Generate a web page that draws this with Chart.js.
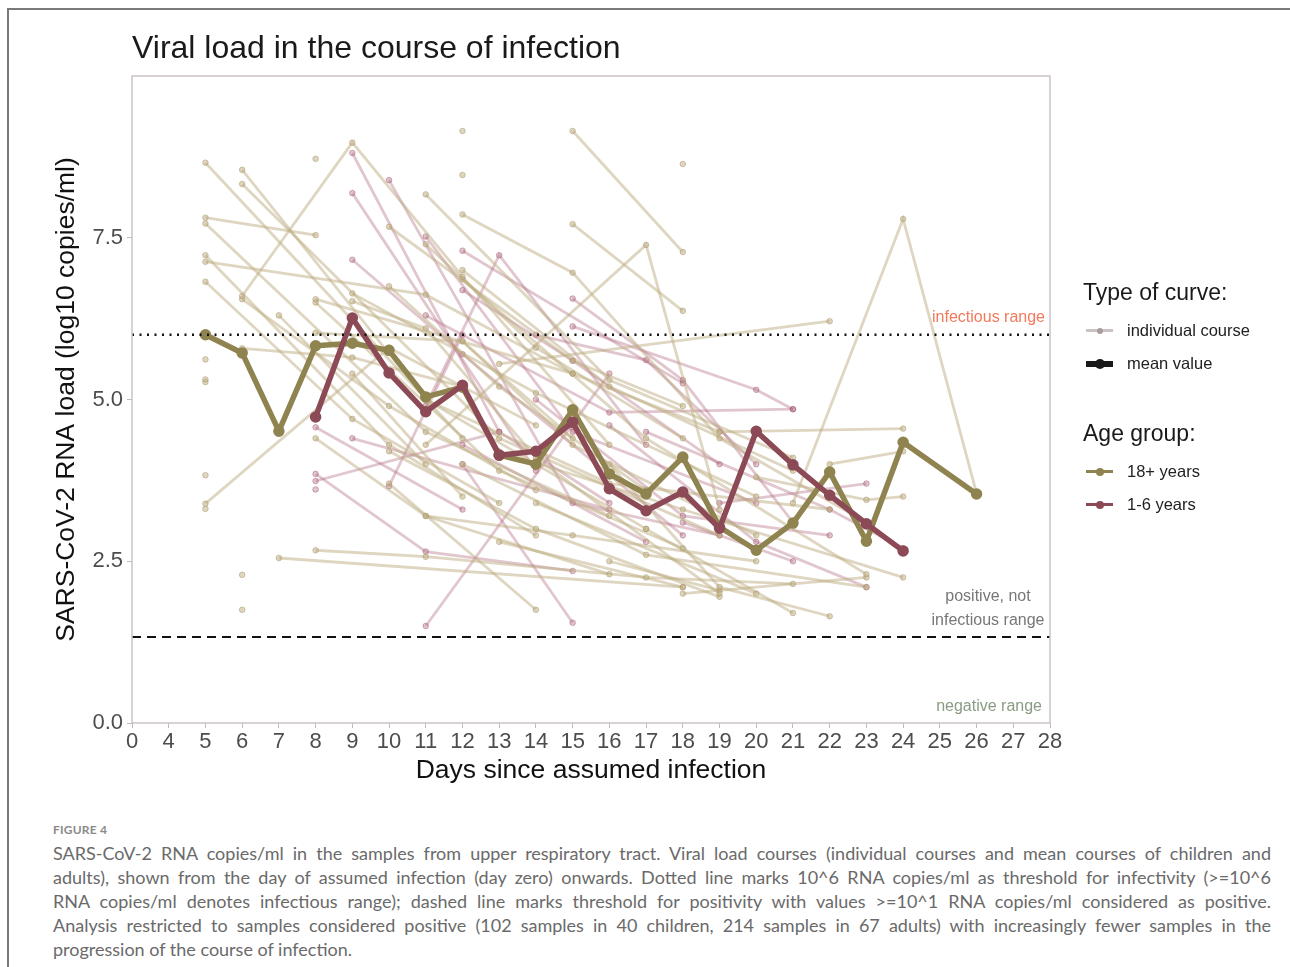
<!DOCTYPE html>
<html>
<head>
<meta charset="utf-8">
<script src="https://cdn.jsdelivr.net/npm/chart.js@4.4.1/dist/chart.umd.min.js"></script>
<style>
  body { margin: 0; background: #fff; width: 1290px; height: 967px; overflow: hidden; position: relative; font-family: "Liberation Sans", Arial, sans-serif; }
  #frame { position: absolute; left: 7px; top: 8px; width: 1300px; height: 980px; border-left: 2px solid #7a7a7a; border-top: 2px solid #7a7a7a; }
  #wrap { position: absolute; left: 0; top: 0; width: 1290px; height: 790px; }
  #title { position: absolute; left: 132px; top: 29px; font-size: 32px; color: #1a1a1a; white-space: nowrap; }
  .leg-h { position: absolute; left: 1083px; font-size: 23px; color: #1a1a1a; white-space: nowrap; }
  .leg-i { position: absolute; left: 1127px; font-size: 16.5px; color: #222; white-space: nowrap; }
  .sym { position: absolute; left: 1086px; width: 27px; }
  .sym i { position: absolute; left: 50%; top: 50%; border-radius: 50%; transform: translate(-50%, -50%); }
  #figno { position: absolute; left: 53px; top: 822px; font-family: Lato, "Open Sans", sans-serif; font-size: 12px; font-weight: 700; color: #8a8a8a; letter-spacing: 0.2px; }
  #caption { position: absolute; left: 53px; top: 841px; width: 1218px; font-family: Lato, "Open Sans", sans-serif; font-size: 18px; color: #6a6a6a; line-height: 24px; }
  #caption div { text-align: justify; text-align-last: justify; white-space: nowrap; }
  #caption div.last { text-align-last: left; }
</style>
</head>
<body>
<div id="frame"></div>
<div id="wrap"><canvas id="viralChart" width="1290" height="790"></canvas></div>
<div id="title">Viral load in the course of infection</div>

<div class="leg-h" style="top:279px">Type of curve:</div>
<div class="sym" style="top:329px;height:3px;background:#cbc3c3"><i style="width:6px;height:6px;background:#a89d9d"></i></div>
<div class="leg-i" style="top:321px">individual course</div>
<div class="sym" style="top:361px;height:6px;background:#1a1a1a"><i style="width:10px;height:10px;background:#1a1a1a"></i></div>
<div class="leg-i" style="top:354px">mean value</div>

<div class="leg-h" style="top:420px">Age group:</div>
<div class="sym" style="top:470px;height:3px;background:#8f834f"><i style="width:8px;height:8px;background:#8f834f"></i></div>
<div class="leg-i" style="top:462px">18+ years</div>
<div class="sym" style="top:503px;height:3px;background:#8b4a56"><i style="width:8px;height:8px;background:#8b4a56"></i></div>
<div class="leg-i" style="top:495px">1-6 years</div>

<div id="figno">FIGURE 4</div>
<div id="caption">
  <div>SARS-CoV-2 RNA copies/ml in the samples from upper respiratory tract. Viral load courses (individual courses and mean courses of children and</div>
  <div>adults), shown from the day of assumed infection (day zero) onwards. Dotted line marks 10^6 RNA copies/ml as threshold for infectivity (&gt;=10^6</div>
  <div>RNA copies/ml denotes infectious range); dashed line marks threshold for positivity with values &gt;=10^1 RNA copies/ml considered as positive.</div>
  <div>Analysis restricted to samples considered positive (102 samples in 40 children, 214 samples in 67 adults) with increasingly fewer samples in the</div>
  <div class="last">progression of the course of infection.</div>
</div>

<script>
// x axis categories (day 1-3 are not shown in the figure)
const dayLabels = ["0", "4", "5", "6", "7", "8", "9", "10", "11", "12", "13", "14", "15", "16",
  "17", "18", "19", "20", "21", "22", "23", "24", "25", "26", "27", "28"];
const yTicks = [0, 2.5, 5, 7.5];

// mean courses
const adultMeanDays = [5, 6, 7, 8, 9, 10, 11, 12, 13, 14, 15, 16, 17, 18, 19, 20, 21, 22, 23, 24, 26];
const adultMeanValues = [6.0, 5.72, 4.51, 5.83, 5.87, 5.76, 5.04, 5.19, 4.14, 4.0, 4.84, 3.85, 3.54, 4.11, 3.03, 2.67, 3.09, 3.88, 2.81, 4.34, 3.54];
const childMeanDays = [8, 9, 10, 11, 12, 13, 14, 15, 16, 17, 18, 19, 20, 21, 22, 23, 24];
const childMeanValues = [4.73, 6.26, 5.41, 4.81, 5.22, 4.14, 4.2, 4.65, 3.62, 3.28, 3.57, 3.01, 4.51, 3.99, 3.52, 3.08, 2.66];

// individual courses, [day, log10 copies/ml]
const adultCourses = [
  [[5, 8.66], [12, 4.4]],
  [[5, 7.81], [8, 7.54]],
  [[5, 7.72], [11, 4.5], [16, 3.2]],
  [[5, 7.23], [10, 4.3], [14, 2.9]],
  [[5, 7.13], [11, 6.62], [15, 5.4]],
  [[5, 6.82], [9, 4.7], [13, 3.4]],
  [[5, 5.62]], [[5, 5.31]], [[5, 5.27]], [[5, 3.83]], [[5, 3.31]],
  [[5, 3.39], [10, 5.8], [14, 4.6]],
  [[6, 8.55], [11, 5.0], [17, 3.0]],
  [[6, 8.33], [13, 4.4], [19, 2.9]],
  [[6, 6.6], [9, 8.97], [12, 6.9], [16, 4.3]],
  [[6, 6.55], [10, 4.9], [14, 3.6]],
  [[6, 5.79], [9, 5.65], [12, 5.2]],
  [[6, 2.29]], [[6, 1.75]],
  [[7, 6.3], [11, 4.0]],
  [[7, 2.55], [18, 2.1]],
  [[8, 8.72]],
  [[8, 6.55], [15, 5.4], [19, 4.5]],
  [[8, 6.5], [13, 3.9], [18, 2.7]],
  [[8, 6.03], [12, 5.9], [15, 4.4]],
  [[8, 4.4], [11, 3.2], [16, 2.3]],
  [[8, 2.67], [11, 2.57], [17, 2.25], [21, 2.15]],
  [[9, 6.64], [14, 5.1], [20, 3.5]],
  [[9, 6.52], [11, 6.1], [14, 4.1], [19, 2.0]],
  [[9, 5.4], [12, 3.5]],
  [[10, 7.67], [15, 5.6], [18, 4.9]],
  [[10, 6.75], [13, 5.2], [17, 3.6]],
  [[10, 4.2], [14, 3.0], [19, 1.95]],
  [[10, 3.7], [14, 1.75]],
  [[11, 8.17], [16, 5.3], [21, 4.1]],
  [[11, 7.4], [14, 5.8], [18, 4.4]],
  [[11, 5.0], [16, 3.7], [22, 3.3]],
  [[11, 3.2], [15, 2.9], [20, 2.5]],
  [[11, 4.3], [17, 7.39], [19, 3.3]],
  [[12, 9.15]],
  [[12, 8.47]],
  [[12, 7.86], [15, 6.96], [19, 4.4], [23, 3.1]],
  [[12, 7.0], [16, 5.2], [21, 3.9]],
  [[12, 6.86], [17, 4.4], [23, 2.3]],
  [[12, 5.9], [15, 4.3], [20, 2.9]],
  [[12, 4.0], [17, 2.6], [23, 2.1]],
  [[13, 5.55], [22, 6.21]],
  [[13, 4.2], [18, 3.3], [24, 2.25]],
  [[13, 2.8], [18, 2.1]],
  [[14, 3.4], [20, 2.0]],
  [[15, 9.15], [18, 7.28]],
  [[15, 7.71], [18, 6.37]],
  [[16, 4.0], [19, 2.1], [22, 1.65]],
  [[16, 2.5], [19, 2.05]],
  [[17, 3.0], [21, 1.7]],
  [[18, 8.64]],
  [[18, 2.0], [23, 2.25]],
  [[19, 4.5], [24, 4.55]],
  [[20, 3.8], [23, 3.45], [24, 3.5]],
  [[21, 3.4], [24, 7.79], [26, 3.55]],
  [[22, 4.0], [24, 4.2]]
];

const childCourses = [
  [[8, 4.57], [12, 3.3]],
  [[8, 3.85], [11, 2.65], [15, 2.35]],
  [[8, 3.74], [13, 4.5]],
  [[8, 3.61]],
  [[9, 8.81], [13, 4.5], [16, 3.4]],
  [[9, 8.19], [14, 3.9]],
  [[9, 7.16], [12, 5.7], [18, 2.9]],
  [[9, 4.4], [16, 3.3]],
  [[10, 8.39], [15, 3.4], [19, 2.9]],
  [[10, 3.66], [12, 6.0]],
  [[11, 7.52], [15, 4.5], [20, 3.4]],
  [[11, 6.3], [16, 4.8], [21, 4.85]],
  [[11, 1.5], [16, 5.4]],
  [[11, 4.9], [13, 7.23], [17, 4.3]],
  [[12, 7.3], [18, 5.25]],
  [[12, 6.69], [15, 5.6], [19, 4.0]],
  [[12, 4.3], [17, 2.8]],
  [[12, 4.0], [15, 1.55]],
  [[14, 6.0], [17, 5.61], [20, 4.0]],
  [[14, 5.0], [18, 3.2], [22, 2.9]],
  [[15, 6.56], [18, 5.3], [21, 3.1]],
  [[15, 6.13], [20, 5.15], [21, 4.85]],
  [[16, 4.6], [20, 2.8], [23, 2.1]],
  [[17, 4.5], [22, 3.3], [24, 2.7]],
  [[18, 3.1], [21, 2.5]],
  [[19, 3.4], [23, 3.7]]
];

const infectiousThreshold = 6.0;
const positiveThreshold = 1.33;

const adultColor = "#8f834f";
const childColor = "#8b4a56";
const adultThin = "rgba(190, 174, 130, 0.5)";
const adultThinPt = "rgba(170, 150, 105, 0.5)";
const childThin = "rgba(175, 105, 125, 0.38)";
const childThinPt = "rgba(160, 85, 105, 0.45)";

function toPoints(days, values) {
  return days.map((d, i) => ({ x: String(d), y: values[i] }));
}

function courseDataset(course, line, pt) {
  return {
    data: course.map(p => ({ x: String(p[0]), y: p[1] })),
    borderColor: line,
    borderWidth: 2.8,
    pointRadius: 2.8,
    pointBackgroundColor: line,
    pointBorderColor: pt,
    pointBorderWidth: 1,
    order: 3
  };
}

function meanDataset(days, values, color) {
  return {
    data: toPoints(days, values),
    borderColor: color,
    borderWidth: 5.5,
    pointRadius: 3,
    pointBackgroundColor: color,
    pointBorderColor: color,
    borderJoinStyle: "round",
    order: 1
  };
}

function thresholdDataset(value, dash, width) {
  return {
    data: [{ x: dayLabels[0], y: value }, { x: dayLabels[dayLabels.length - 1], y: value }],
    borderColor: "#111",
    borderWidth: width,
    borderDash: dash,
    pointRadius: 0,
    order: 0
  };
}

const datasets = [
  thresholdDataset(infectiousThreshold, [2, 5.5], 2.5),
  thresholdDataset(positiveThreshold, [9, 6], 2),
  meanDataset(childMeanDays, childMeanValues, childColor),
  meanDataset(adultMeanDays, adultMeanValues, adultColor)
];
adultCourses.forEach(c => datasets.push(courseDataset(c, adultThin, adultThinPt)));
childCourses.forEach(c => datasets.push(courseDataset(c, childThin, childThinPt)));

// panel border + range labels
const panelPlugin = {
  id: "panel",
  afterDraw(chart) {
    const { ctx, chartArea: a, scales: { y } } = chart;
    ctx.save();
    ctx.strokeStyle = "#cbc3c3";
    ctx.lineWidth = 1.5;
    ctx.strokeRect(a.left, a.top, a.right - a.left, a.bottom - a.top);
    ctx.font = "16px 'Liberation Sans', Arial, sans-serif";
    ctx.textBaseline = "middle";
    ctx.textAlign = "right";
    ctx.fillStyle = "#f2795c";
    ctx.fillText("infectious range", a.right - 5, y.getPixelForValue(6.27));
    ctx.fillStyle = "#777";
    ctx.textAlign = "center";
    ctx.fillText("positive, not", a.right - 62, y.getPixelForValue(1.95));
    ctx.fillText("infectious range", a.right - 62, y.getPixelForValue(1.59));
    ctx.textAlign = "right";
    ctx.fillStyle = "#8a9c82";
    ctx.fillText("negative range", a.right - 8, y.getPixelForValue(0.26));
    ctx.restore();
  }
};

const ctx = document.getElementById("viralChart").getContext("2d");

new Chart(ctx, {
  type: "line",
  data: { labels: dayLabels, datasets: datasets },
  options: {
    responsive: false,
    animation: false,
    events: [],
    layout: { padding: { left: 0, right: 240, top: 76, bottom: 0 } },
    plugins: {
      legend: { display: false },
      tooltip: { enabled: false }
    },
    scales: {
      x: {
        type: "category",
        offset: false,
        grid: { drawOnChartArea: false, drawTicks: true, tickLength: 5, color: "#bbb" },
        border: { display: false },
        ticks: {
          autoSkip: false,
          maxRotation: 0,
          padding: 1,
          color: "#4d4d4d",
          font: { size: 22, family: "'Liberation Sans', Arial, sans-serif" }
        },
        title: {
          display: true,
          text: "Days since assumed infection",
          color: "#111",
          padding: { top: 0, bottom: 3 },
          font: { size: 26.5, family: "'Liberation Sans', Arial, sans-serif" }
        },
        afterFit(scale) { scale.height = 67; }
      },
      y: {
        min: 0,
        max: 10,
        afterBuildTicks(scale) { scale.ticks = yTicks.map(v => ({ value: v })); },
        grid: { drawOnChartArea: false, drawTicks: true, tickLength: 5, color: "#bbb" },
        border: { display: false },
        ticks: {
          padding: 4,
          color: "#4d4d4d",
          font: { size: 22, family: "'Liberation Sans', Arial, sans-serif" },
          callback: v => v.toFixed(1)
        },
        title: {
          display: true,
          text: "SARS-CoV-2 RNA load (log10 copies/ml)",
          color: "#111",
          padding: { top: 51, bottom: 0 },
          font: { size: 26.5, family: "'Liberation Sans', Arial, sans-serif" }
        },
        afterFit(scale) { scale.width = 132; }
      }
    }
  },
  plugins: [panelPlugin]
});
</script>
</body>
</html>
